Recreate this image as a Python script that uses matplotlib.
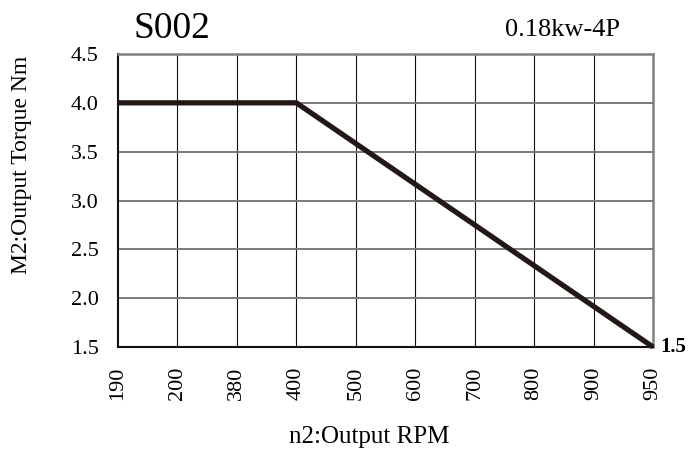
import matplotlib
matplotlib.use('Agg')
import matplotlib.pyplot as plt

# ---- Data ----
rpm_labels = ['190', '200', '380', '400', '500', '600', '700', '800', '900', '950']
torque_ticks = [1.5, 2.0, 2.5, 3.0, 3.5, 4.0, 4.5]
curve_rpm = ['190', '400', '950']
curve_torque = [4.0, 4.0, 1.5]
end_label = '1.5'

plt.rcParams['font.family'] = ['Liberation Serif', 'DejaVu Serif']

fig = plt.figure(figsize=(6.95, 4.5), dpi=100)
ax = fig.add_axes([118 / 695, 103 / 450, 535 / 695, 293 / 450])

xpos = [rpm_labels.index(r) for r in curve_rpm]
ax.plot(xpos, curve_torque, color='#231815', linewidth=3.8,
        solid_capstyle='butt', solid_joinstyle='miter', zorder=5, clip_on=False)

ax.set_xlim(0, len(rpm_labels) - 1)
ax.set_ylim(torque_ticks[0], torque_ticks[-1])
ax.set_xticks(range(len(rpm_labels)))
ax.set_xticklabels(rpm_labels, rotation=90, fontsize=16)
ax.set_yticks(torque_ticks)
ax.set_yticklabels([f'{t:.1f}' for t in torque_ticks], fontsize=16)
ax.tick_params(axis='y', length=0, pad=14)
ax.tick_params(axis='x', length=0, pad=14)

# grid: vertical black, horizontal gray
for i in range(1, len(rpm_labels) - 1):
    ax.axvline(i, color='#111111', linewidth=0.8, zorder=1)
for t in torque_ticks[1:-1]:
    ax.axhline(t, color='#7a7a7a', linewidth=1.4, zorder=1)

ax.spines['left'].set_color('#111111')
ax.spines['bottom'].set_color('#111111')
ax.spines['left'].set_linewidth(1.5)
ax.spines['bottom'].set_linewidth(1.5)
ax.spines['top'].set_color('#808080')
ax.spines['right'].set_color('#808080')
ax.spines['top'].set_linewidth(1.8)
ax.spines['right'].set_linewidth(1.8)

ax.text(len(rpm_labels) - 1 + 0.12, curve_torque[-1], end_label,
        fontsize=15, fontweight='bold', va='center', ha='left', clip_on=False)

ax.set_xlabel('n2:Output RPM', fontsize=18)
ax.set_ylabel('M2:Output Torque Nm', fontsize=17)
ax.xaxis.set_label_coords(0.47, -0.27)
ax.yaxis.set_label_coords(-0.16, 0.62)

fig.text(133 / 695, 1 - 29 / 450, 'S002', fontsize=27, va='center', ha='left')
fig.text(505 / 695, 1 - 30 / 450, '0.18kw-4P', fontsize=19, va='center', ha='left')

fig.savefig('out.png', dpi=100)
